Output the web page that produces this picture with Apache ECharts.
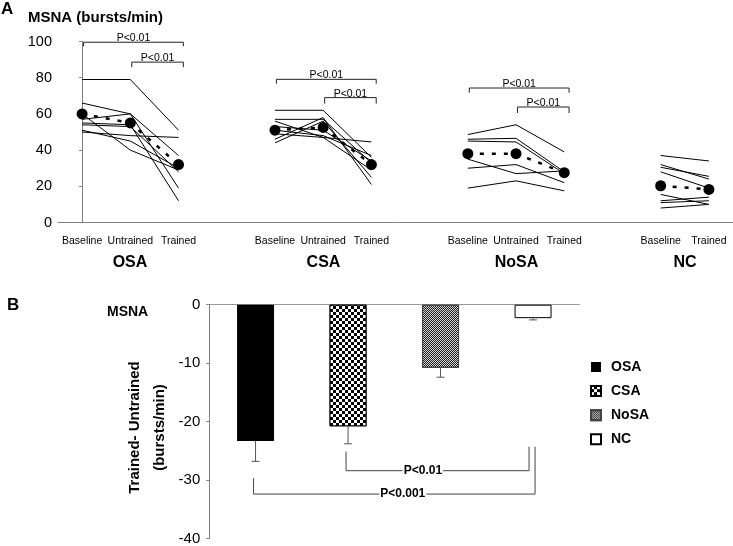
<!DOCTYPE html>
<html><head><meta charset="utf-8">
<script src="https://cdn.jsdelivr.net/npm/echarts@6/dist/echarts.min.js"></script>
<style>html,body{margin:0;padding:0;background:#fff}#c{width:733px;height:546px}</style>
</head><body><div id="c"></div>
<script>
// ---------- Panel A data ----------
const slotLabels = ['Baseline','Untrained','Trained','','Baseline','Untrained','Trained','','Baseline','Untrained','Trained','','Baseline','Trained'];
const groupNames = ['OSA','CSA','NoSA','NC'];
const groupSlots = [[0,1,2],[4,5,6],[8,9,10],[12,13]];
const osaSubjects = [[79,79,51],[66,60,19],[57,60,37],[55,54,12],[54,53,28],[51,45,30],[50,48,47],[60,40,29]];
const osaMean = [60,55,32];
const csaSubjects = [[62,62,36],[57,57,33],[56,47,29],[46,58,21],[44,56,25],[49,47,44.5],[53,51,34],[51,48,37]];
const csaMean = [51,52.5,32];
const nosaSubjects = [[48.6,54,39],[46,46.5,28],[45,44.5,27],[30,32,22],[35,27,28.5],[19,23,17.5]];
const nosaMean = [38,38,27.5];
const ncSubjects = [[37,34],[32,24],[30.5,25.5],[28,19],[15.5,10],[12,14],[11,12],[8,10]];
const ncMean = [20.3,18.3];
const yTicksA = [0,20,40,60,80,100];
// significance brackets, panel A: group, start condition, bracket level, tip level, label
const bracketsA = [
  {g:0, from:0, y:99.6, tip:97.4, text:'P<0.01'},
  {g:0, from:1, y:88.6, tip:85.8, text:'P<0.01'},
  {g:1, from:0, y:79.1, tip:76.7, text:'P<0.01'},
  {g:1, from:1, y:69.0, tip:65.7, text:'P<0.01'},
  {g:2, from:0, y:74.3, tip:71.7, text:'P<0.01'},
  {g:2, from:1, y:63.8, tip:60.5, text:'P<0.01'}
];

// ---------- Panel B data ----------
const diffGroups = ['OSA','CSA','NoSA','NC'];
const diffMean = [-23.3,-20.8,-10.8,-2.3];
const diffLow = [-26.8,-23.8,-12.4,-2.6];
const yTicksB = [-40,-30,-20,-10,0];
const bracketsB = [
  {from:1, to:3, fromTop:-25.1, toTop:-24.3, y:-28.4, t:0.42, text:'P<0.01', dxFrom:-2, dxTo:-4},
  {from:0, to:3, fromTop:-29.7, toTop:-24.3, y:-32.4, t:0.53, text:'P<0.001', dxFrom:-2, dxTo:2}
];

const FONT = '"Liberation Sans", Arial, sans-serif';
const groupsA = [
  {slots:groupSlots[0], subj:osaSubjects, mean:osaMean},
  {slots:groupSlots[1], subj:csaSubjects, mean:csaMean},
  {slots:groupSlots[2], subj:nosaSubjects, mean:nosaMean},
  {slots:groupSlots[3], subj:ncSubjects, mean:ncMean}
];

const series = [];
groupsA.forEach(g => {
  g.subj.forEach(vals => series.push({
    type:'line', xAxisIndex:0, yAxisIndex:0, silent:true, z:2,
    data: vals.map((v,k)=>[g.slots[k], v]),
    symbol:'none', lineStyle:{color:'#000', width:1}
  }));
  series.push({
    type:'line', xAxisIndex:0, yAxisIndex:0, silent:true, z:3,
    data: g.mean.map((v,k)=>[g.slots[k], v]),
    symbol:'circle', symbolSize:11, itemStyle:{color:'#000'},
    lineStyle:{color:'#000', width:2.5, type:[4,8]}
  });
});

series.push({
  type:'custom', xAxisIndex:0, yAxisIndex:0, silent:true, clip:false, z:4,
  data: bracketsA.map(b => [groupSlots[b.g][0], b.y]),
  renderItem: (params, api) => {
    const b = bracketsA[params.dataIndex];
    const s = groupSlots[b.g];
    const x1 = s[b.from] + 0.03, x2 = s[2] + 0.1;
    const pA = api.coord([x1, b.tip]), pB = api.coord([x1, b.y]);
    const pC = api.coord([x2, b.y]), pD = api.coord([x2, b.tip]);
    return {type:'group', children:[
      {type:'polyline', shape:{points:[pA,pB,pC,pD]}, style:{stroke:'#222', lineWidth:1, fill:null}},
      {type:'text', x:(pB[0]+pC[0])/2, y:pB[1]+1.5,
       style:{text:b.text, align:'center', verticalAlign:'bottom', font:'10.5px ' + FONT, fill:'#000'}}
    ]};
  }
});

// Panel B bars
const barStyles = [
  {color:'#000'},
  {color:'#fff', borderColor:'#000', borderWidth:0.8,
   decal:{symbol:'rect', symbolSize:1, dashArrayX:[[3,3],[0,3,3,0]], dashArrayY:[3,0], color:'#000'}},
  {color:'#d2d2d2', borderColor:'#444', borderWidth:1,
   decal:{symbol:'rect', symbolSize:1, dashArrayX:[[1,1],[0,1,1,0]], dashArrayY:[1,0], color:'#222'}},
  {color:'#fff', borderColor:'#000', borderWidth:1}
];
diffGroups.forEach((name, i) => {
  series.push({
    type:'bar', name, xAxisIndex:2, yAxisIndex:1, stack:'b', barWidth:37,
    data: diffGroups.map((_, j) => j === i ? diffMean[i] : '-'),
    itemStyle: barStyles[i], silent:true
  });
});
series.push({
  type:'custom', xAxisIndex:2, yAxisIndex:1, silent:true, z:5,
  data: diffMean.map((v,i)=>[i, v, diffLow[i]]),
  renderItem: (params, api) => {
    const i = api.value(0);
    const top = api.coord([i, api.value(1)]), bot = api.coord([i, api.value(2)]);
    return {type:'group', children:[
      {type:'line', shape:{x1:top[0], y1:top[1], x2:bot[0], y2:bot[1]}, style:{stroke:'#555', lineWidth:1}},
      {type:'line', shape:{x1:bot[0]-4, y1:bot[1], x2:bot[0]+4, y2:bot[1]}, style:{stroke:'#555', lineWidth:1}}
    ]};
  }
});
series.push({
  type:'custom', xAxisIndex:2, yAxisIndex:1, silent:true, clip:false, z:6,
  data: bracketsB.map(b => [b.from, b.y]),
  renderItem: (params, api) => {
    const b = bracketsB[params.dataIndex];
    const l0 = api.coord([b.from, b.fromTop]), l1 = api.coord([b.from, b.y]);
    const r1 = api.coord([b.to, b.y]), r0 = api.coord([b.to, b.toTop]);
    const xl = l0[0] + b.dxFrom, xr = r0[0] + b.dxTo;
    const tx = xl + b.t * (xr - xl);
    return {type:'group', children:[
      {type:'polyline', shape:{points:[[xl,l0[1]],[xl,l1[1]],[xr,r1[1]],[xr,r0[1]]]}, style:{stroke:'#444', lineWidth:1, fill:null}},
      {type:'text', x:tx, y:l1[1], z2:10,
       style:{text:b.text, align:'center', verticalAlign:'middle', font:'bold 12px ' + FONT, fill:'#000', backgroundColor:'#fff', padding:[0,1]}}
    ]};
  }
});

const option = {
  animation:false,
  backgroundColor:'#fff',
  textStyle:{fontFamily:FONT},
  grid:[
    {left:58, right:0, top:41.5, bottom:323.5},
    {left:209.3, right:153.7, top:304.7, bottom:6.3}
  ],
  xAxis:[
    {gridIndex:0, type:'value', min:-0.5, max:13.5, show:false, position:'top'},
    {gridIndex:0, type:'category', data:slotLabels, boundaryGap:true, position:'bottom',
     axisLine:{onZero:false, lineStyle:{color:'#808080', width:1}},
     axisTick:{inside:true, length:3, alignWithLabel:true, lineStyle:{color:'#808080'},
       interval:(idx, val) => val !== ''},
     axisLabel:{interval:0, fontSize:10.5, color:'#000', margin:13, fontFamily:FONT}},
    {gridIndex:1, type:'category', data:diffGroups, position:'top',
     axisLine:{onZero:false, lineStyle:{color:'#999', width:1}},
     axisTick:{show:false}, axisLabel:{show:false}}
  ],
  yAxis:[
    {gridIndex:0, type:'value', min:yTicksA[0], max:yTicksA[yTicksA.length-1], interval:20,
     splitLine:{show:false},
     axisLine:{show:true, lineStyle:{color:'#808080'}},
     axisTick:{show:true, length:3, lineStyle:{color:'#808080'}},
     axisLabel:{fontSize:14.5, color:'#000', margin:6, fontFamily:FONT}},
    {gridIndex:1, type:'value', min:yTicksB[0], max:yTicksB[yTicksB.length-1], interval:10,
     splitLine:{show:false},
     axisLine:{show:true, onZero:false, lineStyle:{color:'#808080'}},
     axisTick:{show:true, length:3, lineStyle:{color:'#808080'}},
     axisLabel:{fontSize:15, color:'#000', margin:9, fontFamily:FONT}}
  ],
  legend:{
    data:diffGroups, orient:'vertical', left:590, top:360, itemWidth:10, itemHeight:10, itemGap:10.1,
    icon:'rect', selectedMode:false, padding:0,
    textStyle:{fontWeight:'bold', fontSize:14, color:'#000', fontFamily:FONT, padding:[0,0,0,5]}
  },
  graphic:[
    {type:'text', x:1, y:1, style:{text:'A', font:'bold 17px ' + FONT, fill:'#000', align:'left', verticalAlign:'top'}},
    {type:'text', x:28, y:18, style:{text:'MSNA (bursts/min)', font:'bold 15px ' + FONT, fill:'#000', align:'left', verticalAlign:'middle'}},
    {type:'text', x:130, y:263, style:{text:groupNames[0], font:'bold 16px ' + FONT, fill:'#000', align:'center', verticalAlign:'middle'}},
    {type:'text', x:323.5, y:263, style:{text:groupNames[1], font:'bold 16px ' + FONT, fill:'#000', align:'center', verticalAlign:'middle'}},
    {type:'text', x:516.5, y:263, style:{text:groupNames[2], font:'bold 16px ' + FONT, fill:'#000', align:'center', verticalAlign:'middle'}},
    {type:'text', x:685, y:263, style:{text:groupNames[3], font:'bold 16px ' + FONT, fill:'#000', align:'center', verticalAlign:'middle'}},
    {type:'text', x:7, y:297, style:{text:'B', font:'bold 17px ' + FONT, fill:'#000', align:'left', verticalAlign:'top'}},
    {type:'text', x:107, y:312, style:{text:'MSNA', font:'bold 14px ' + FONT, fill:'#000', align:'left', verticalAlign:'middle'}},
    {type:'text', x:147, y:427.5, rotation:Math.PI/2,
     style:{text:'Trained- Untrained\n(bursts/min)', font:'bold 15px ' + FONT, lineHeight:25, fill:'#000', align:'center', verticalAlign:'middle'}}
  ],
  series
};
const chart = echarts.init(document.getElementById('c'));
chart.setOption(option);
</script>
</body></html>
